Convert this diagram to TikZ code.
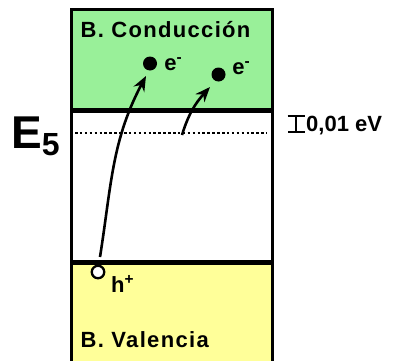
\documentclass[tikz,border=0pt]{standalone}
\usepackage{fontspec}
\setmainfont{Liberation Sans}
\newfontfamily\widefont{Liberation Sans}[LetterSpace=6]
\usepackage{tikz}
\usetikzlibrary{arrows.meta, positioning}
\definecolor{CondGreen}{RGB}{153, 240, 153}
\definecolor{ValYellow}{RGB}{255, 255, 153}

\begin{document}
\begin{tikzpicture}[x=1pt, y=1pt,
    band/.style={draw=black, line width=2.5pt, minimum width=201pt, anchor=north west, inner sep=0pt},
    bandlabel/.style={font=\widefont\fontsize{22}{22}\selectfont\bfseries, anchor=base west, inner sep=0pt},
    carrier/.style={font=\fontsize{22}{22}\selectfont\bfseries, anchor=base west, inner sep=0pt},
    electron/.style={circle, fill=black, minimum size=14pt, inner sep=0pt},
    hole/.style={circle, draw=black, line width=2.3pt, fill=white, minimum size=12.5pt, inner sep=0pt},
    dotline/.style={line width=2.5pt, dash pattern=on 2.5pt off 2.4pt},
    jump/.style={line width=2.6pt, -{Stealth[length=15pt, width=12pt]}},
    gauge/.style={line width=2.3pt, {Bar[width=17pt]}-{Bar[width=17pt]}}]
  \useasboundingbox (0,0) rectangle (395,360);

  % bands
  \node[band, fill=CondGreen, minimum height=100pt] (cond) at (70,352) {};
  \node[band, fill=white, minimum height=149pt] (gap) at (cond.south west) {};
  \node[band, fill=ValYellow, minimum height=100pt] (val) at (gap.south west) {};
  \node[bandlabel] (condlabel) at (80.5,323) {B. Conducción};
  \node[bandlabel] (vallabel) at (80.5,13) {B. Valencia};

  % donor level
  \coordinate (donorL) at (75,227);
  \coordinate (donorR) at (267,227);
  \draw[dotline] (donorL) -- (donorR);
  \node[anchor=base west, inner sep=0pt, font=\fontsize{46}{46}\selectfont\bfseries] (elevel) at (11,212)
    {E\raisebox{-7pt}{\fontsize{32}{32}\selectfont 5}};

  % 0,01 eV gauge
  \coordinate (gtop) at (296,245);
  \coordinate (gbot) at (296,227);
  \draw[gauge] (gtop) -- (gbot);
  \node[carrier] (gaplabel) at (306,229) {0,01 eV};

  % carriers
  \node[electron] (e1) at (150,296.5) {};
  \node[carrier] (e1lab) at ([xshift=7pt, yshift=-6.5pt]e1.east) {e\textsuperscript{-}};
  \node[electron] (e2) at (218.5,285.5) {};
  \node[carrier] (e2lab) at ([xshift=6.5pt, yshift=0.5pt]e2.east) {e\textsuperscript{-}};
  \node[hole] (h) at (98,88) {};
  \node[carrier] (hlab) at (111,68) {h\textsuperscript{+}};

  % transitions
  \coordinate (exc1) at (100,103);
  \coordinate (tip1) at (146,284);
  \coordinate (exc2) at (182,225);
  \coordinate (tip2) at (210,273);
  \draw[jump] (exc1) to[out=81, in=242] (tip1);
  \draw[jump] (exc2) to[out=73, in=228] (tip2);
\end{tikzpicture}
\end{document}
